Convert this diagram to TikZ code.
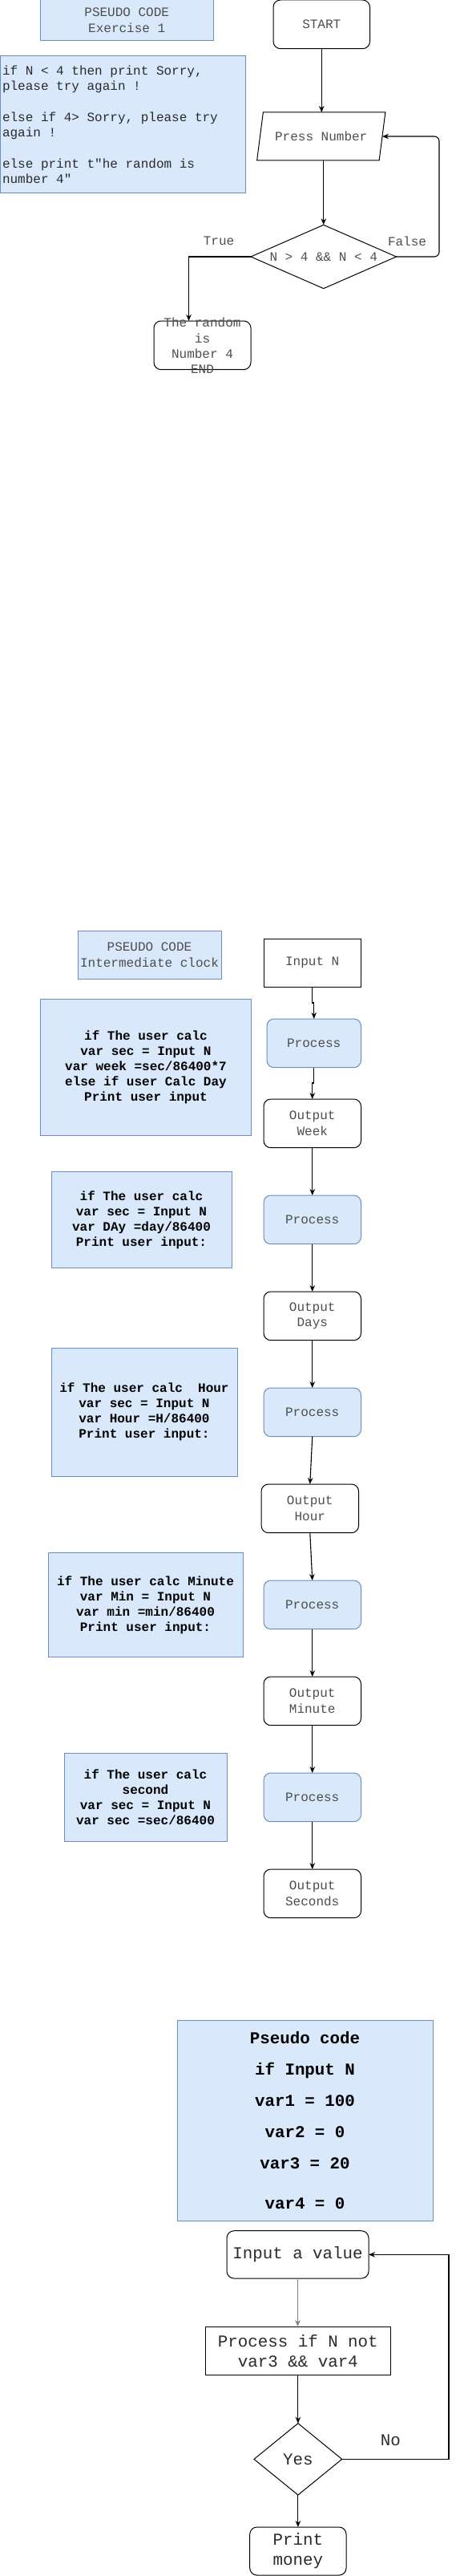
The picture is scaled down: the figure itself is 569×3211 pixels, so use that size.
\documentclass[tikz,border=0pt]{standalone}
\usepackage{fontspec}
\newfontfamily\cour{Liberation Mono}
\usetikzlibrary{shapes.geometric,arrows.meta}
\definecolor{bfill}{HTML}{DAE8FC}
\definecolor{bline}{HTML}{6C8EBF}
\definecolor{txtgray}{HTML}{4D4D4D}
\definecolor{txtdark}{HTML}{2A2A2A}
\tikzset{
  sz/.style 2 args={minimum width=#1pt, minimum height=#2pt},
  base/.style={inner sep=0pt, outer sep=0pt, line width=1pt, align=center,
    font=\cour\fontsize{16}{19.3}\selectfont, text=txtgray},
  bigfont/.style={font=\cour\fontsize{20.8}{25}\selectfont, text=txtdark},
  bluebox/.style={base, rectangle, draw=bline, fill=bfill},
  roundbox/.style={base, rectangle, draw, rounded corners=9pt},
  procbox/.style={base, rectangle, draw=bline, fill=bfill, rounded corners=9pt},
  sqbox/.style={base, rectangle, draw},
  codetext/.style={text=black, font=\cour\bfseries\fontsize{16}{19}\selectfont},
  conn/.style={draw, line width=1.1pt, -{Stealth[length=8pt,width=6.5pt]}},
  lbl/.style={base}
}
\begin{document}
\begin{tikzpicture}[x=1pt,y=-1pt]
\useasboundingbox (0,0) rectangle (569,3211);

% ---------- Exercise 1 ----------
\node[bluebox, sz={215.5}{50.7}] (t1) at (158.25,25.35) {PSEUDO CODE\\Exercise 1};
\node[bluebox, sz={306}{170.7}] (code0) at (153,155.35) {};
\node[base, text=txtdark, align=left, anchor=west] (code0t) at (3,155.35)
  {if N < 4 then print Sorry,\\please try again !\\ \mbox{}\\else if 4> Sorry, please try\\again !\\ \mbox{}\\else print t"he random is\\number 4"};
\node[roundbox, sz={120.5}{60.7}] (start) at (401.25,30.35) {START};
\node[base, draw, trapezium, trapezium left angle=62.3, trapezium right angle=117.7,
      trapezium stretches=true, sz={160.5}{60}] (press) at (400.75,170) {Press Number};
\node[base, draw, diamond, aspect=2.29, sz={181.5}{79.3}] (dec1) at (403.75,320) {N > 4 \&\& N < 4};
\node[roundbox, sz={121}{60.7}] (endb) at (252.5,430.35) {};
\node[base] (endt) at (252.5,430.9) {The random\\is\\Number 4\\END};
\node[lbl] (ltrue) at (273,300.7) {True};
\node[lbl] (lfalse) at (508,300.7) {False};

\draw[conn] (start.south) -- (start.south |- press.north);
\draw[conn] (dec1.north |- press.south) -- (dec1.north);
\coordinate (c1) at (548,170);
\draw[conn, rounded corners=6pt] (dec1.east) -| (c1) -- (press.right side);
\coordinate (c2) at (235.5,320);
\draw[conn] (dec1.west) -- (c2) -- (c2 |- endb.north);

% ---------- Intermediate clock ----------
\node[bluebox, sz={179}{60.7}] (t2) at (186.5,1190.35) {PSEUDO CODE\\Intermediate clock};
\node[sqbox, sz={121.5}{60.3}] (inN) at (389.75,1200.15) {Input N};
\node[procbox, sz={117.5}{60.7}] (p1) at (391.75,1300.35) {Process};
\node[roundbox, sz={121.5}{60.7}] (oW) at (389.75,1400.35) {Output\\Week};
\node[procbox, sz={121.5}{60.7}] (p2) at (389.75,1520.35) {Process};
\node[roundbox, sz={121.5}{60.7}] (oD) at (389.75,1640.35) {Output\\Days};
\node[procbox, sz={121.5}{60.7}] (p3) at (389.75,1760.35) {Process};
\node[roundbox, sz={121.5}{60.7}] (oH) at (386.8,1880.35) {Output\\Hour};
\node[procbox, sz={121.5}{60.7}] (p4) at (389.75,2000.35) {Process};
\node[roundbox, sz={121.5}{60.7}] (oM) at (389.75,2120.35) {Output\\Minute};
\node[procbox, sz={121.5}{60.7}] (p5) at (389.75,2240.35) {Process};
\node[roundbox, sz={121.5}{60.7}] (oS) at (389.75,2360.35) {Output\\Seconds};

\node[bluebox, codetext, sz={263}{170.7}] (cb1) at (182,1330.35)
  {if The user calc\\var sec = Input N\\var week =sec/86400*7\\else if user Calc Day\\Print user input};
\node[bluebox, codetext, sz={225}{120.7}] (cb2) at (176.5,1520.35)
  {if The user calc\\var sec = Input N\\var DAy =day/86400\\Print user input:};
\node[bluebox, codetext, sz={232}{160}] (cb3) at (180,1760)
  {if The user calc~~Hour\\var sec = Input N\\var Hour =H/86400\\Print user input:};
\node[bluebox, codetext, sz={243}{130}] (cb4) at (181.5,2000.3)
  {if The user calc Minute\\var Min = Input N\\var min =min/86400\\Print user input:};
\node[bluebox, codetext, sz={203}{110.7}] (cb5) at (181.5,2240.35)
  {if The user calc\\second\\var sec = Input N\\var sec =sec/86400};

\coordinate (j1) at (389.75,1250);
\draw[conn] (inN.south) -- (j1) -| (p1.north);
\coordinate (j2) at (391.75,1350);
\draw[conn] (p1.south) -- (j2) -| (oW.north);
\draw[conn] (oW.south) -- (p2.north);
\draw[conn] (p2.south) -- (oD.north);
\draw[conn] (oD.south) -- (p3.north);
\draw[conn] (p3.south) -- (oH.north);
\draw[conn] (oH.south) -- (p4.north);
\draw[conn] (p4.south) -- (oM.north);
\draw[conn] (oM.south) -- (p5.north);
\draw[conn] (p5.south) -- (oS.north);

% ---------- Pseudo code money ----------
\node[bluebox, sz={319}{250}, text=black, font=\cour\bfseries\fontsize{20.8}{39}\selectfont] (big) at (380.5,2643)
  {Pseudo code\\if Input N\\var1 = 100\\var2 = 0\\var3 = 20\\[11pt]var4 = 0};
\node[roundbox, bigfont, sz={177}{59.3}] (inv) at (371.5,2810.35) {Input a value};
\node[sqbox, bigfont, font=\cour\fontsize{20.8}{24.4}\selectfont, sz={230.3}{60.7}] (procb) at (371.85,2930.35) {Process if N not\\var3 \&\& var4};
\node[base, draw, diamond, bigfont, aspect=1.23, sz={109.7}{89.3}] (dec2) at (371.85,3065.35) {Yes};
\node[roundbox, bigfont, sz={120.3}{60}] (pm) at (371.85,3180) {Print\\money};
\node[base, bigfont] (lno) at (487.3,3041.7) {No};

\draw[conn, draw=gray] (inv.south) -- (inv.south |- procb.north);
\draw[conn] (procb.south) -- (dec2.north);
\draw[conn] (dec2.south) -- (pm.north);
\coordinate (c3) at (560,2810.35);
\draw[conn] (dec2.east) -| (c3) -- (inv.east);
\end{tikzpicture}
\end{document}
